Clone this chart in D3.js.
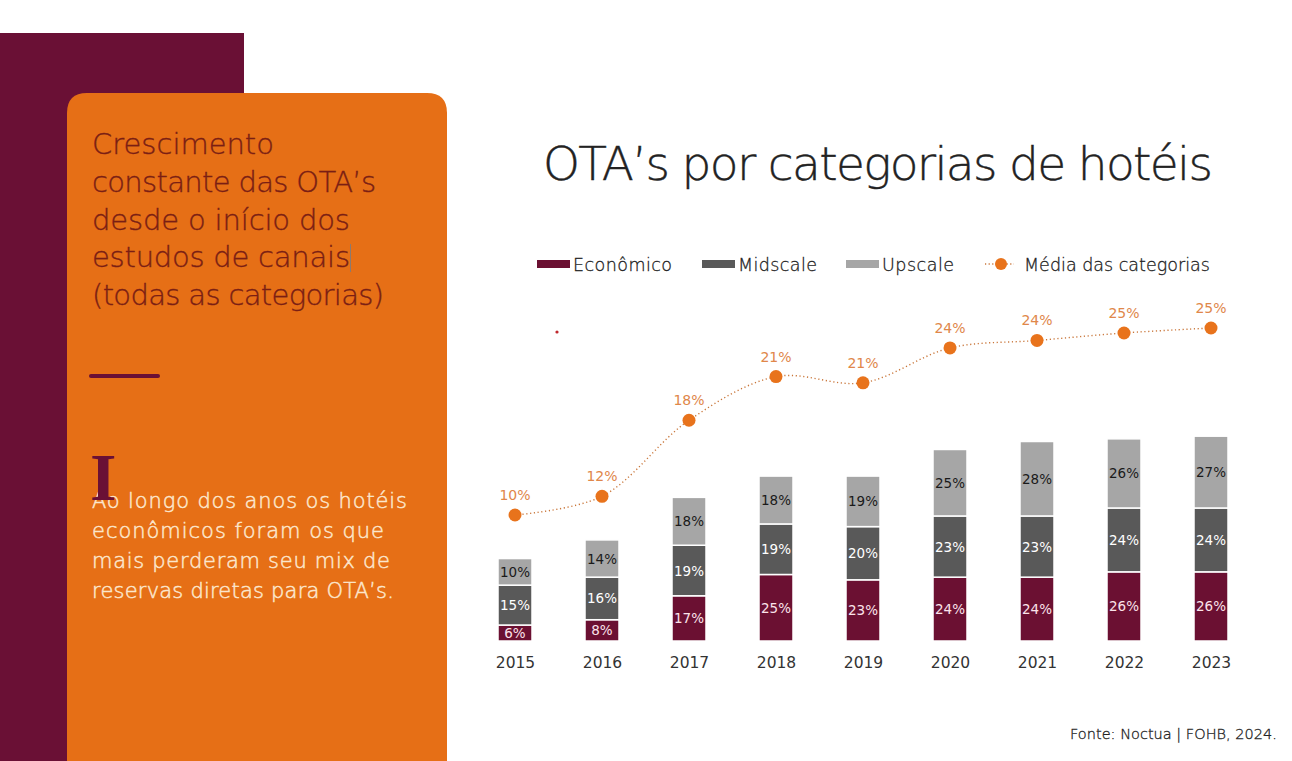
<!DOCTYPE html>
<html><head><meta charset="utf-8">
<script src="https://cdn.jsdelivr.net/npm/d3@7"></script>
<style>
html,body{margin:0;padding:0;background:#fff;}
svg{display:block;}
</style></head>
<body>
<svg id="chart" width="1292" height="761"></svg>
<script>
const years = ["2015","2016","2017","2018","2019","2020","2021","2022","2023"];
const economico = [6, 8, 17, 25, 23, 24, 24, 26, 26];
const midscale  = [15, 16, 19, 19, 20, 23, 23, 24, 24];
const upscale   = [10, 14, 18, 18, 19, 25, 28, 26, 27];
const media     = [10.0, 11.5, 17.6, 21.1, 20.6, 23.4, 24.0, 24.6, 25.0];
const mediaLabels = ["10%","12%","18%","21%","21%","24%","24%","25%","25%"];
const seriesNames = ["Econômico","Midscale","Upscale"];
const lineName = "Média das categorias";
const headingLines = ["Crescimento","constante das OTA’s","desde o início dos","estudos de canais","(todas as categorias)"];
const bodyLines = ["Ao longo dos anos os hotéis","econômicos foram os que","mais perderam seu mix de","reservas diretas para OTA’s."];

const colors = {econ:"#6B1032", mid:"#595959", up:"#A6A6A6", orange:"#E8731C", maroon:"#6A1035"};
const svg = d3.select("#chart");
const FONT = "'DejaVu Sans',sans-serif";

// fit a text element to a target width via letter-spacing
function fitWidth(sel, target){
  sel.each(function(){
    const w = this.getComputedTextLength();
    const n = this.textContent.length;
    if(n>1) d3.select(this).attr("letter-spacing", ((target - w)/(n-1)).toFixed(2));
  });
}

// ---- left panel ----
svg.append("rect").attr("x",0).attr("y",33).attr("width",244).attr("height",740).attr("fill",colors.maroon);
svg.append("path")
  .attr("d","M67,761 L67,113 Q67,93 87,93 L427,93 Q447,93 447,113 L447,761 Z")
  .attr("fill","#E66F16");
const headWidths = [182, 284, 258, 258, 292];
const heads = svg.append("g").selectAll("text").data(headingLines).join("text")
  .attr("x",92).attr("y",(d,i)=>154+i*37.8)
  .attr("font-family",FONT).attr("font-weight",200).attr("font-size",29)
  .attr("fill","#7A1E14").attr("stroke","#7A1E14").attr("stroke-width",0.35).text(d=>d);
heads.each(function(d,i){ fitWidth(d3.select(this), headWidths[i]); });
svg.append("line").attr("x1",350.5).attr("x2",350.5).attr("y1",244).attr("y2",272)
  .attr("stroke","#8a7a70").attr("stroke-width",1);
svg.append("line").attr("x1",91).attr("x2",158).attr("y1",376).attr("y2",376)
  .attr("stroke",colors.maroon).attr("stroke-width",4).attr("stroke-linecap","round");
const bodyWidths = [315, 292, 298, 302];
const bodies = svg.append("g").selectAll("text").data(bodyLines).join("text")
  .attr("x",92).attr("y",(d,i)=>508+i*30)
  .attr("font-family",FONT).attr("font-weight",200).attr("font-size",21)
  .attr("fill","#FCE6CC").attr("stroke","#FCE6CC").attr("stroke-width",0.5).text(d=>d);
bodies.each(function(d,i){ fitWidth(d3.select(this), bodyWidths[i]); });
svg.append("text").attr("x",90).attr("y",500)
  .attr("font-family","'Liberation Serif','DejaVu Serif',serif").attr("font-weight","bold").attr("font-size",68)
  .attr("fill",colors.maroon).text("I");

// ---- title ----
const title = svg.append("text").attr("x",543).attr("y",180)
  .attr("font-family",FONT).attr("font-weight",200).attr("font-size",47)
  .attr("fill","#222").attr("stroke","#222").attr("stroke-width",0.4).text("OTA’s por categorias de hotéis");
fitWidth(title, 670);

// ---- legend ----
const legendItems = [
  {name:seriesNames[0], color:colors.econ, x:537, w:99},
  {name:seriesNames[1], color:colors.mid, x:702, w:79},
  {name:seriesNames[2], color:colors.up, x:846, w:72}
];
const lg = svg.append("g");
legendItems.forEach(it=>{
  lg.append("rect").attr("x",it.x).attr("y",260).attr("width",33).attr("height",8).attr("fill",it.color);
  const t = lg.append("text").attr("x",it.x+36).attr("y",271).attr("font-family",FONT).attr("font-weight",200).attr("font-size",17.5)
    .attr("fill","#222").attr("stroke","#222").attr("stroke-width",0.3).text(it.name);
  fitWidth(t, it.w);
});
lg.append("line").attr("x1",985).attr("x2",1014).attr("y1",264).attr("y2",264)
  .attr("stroke","#C9763A").attr("stroke-width",1.5).attr("stroke-dasharray","1.2,2.4");
lg.append("circle").attr("cx",1001).attr("cy",264).attr("r",6).attr("fill",colors.orange);
const lt = lg.append("text").attr("x",1024).attr("y",271).attr("font-family",FONT).attr("font-weight",200).attr("font-size",17.5)
  .attr("fill","#222").attr("stroke","#222").attr("stroke-width",0.3).text(lineName);
fitWidth(lt, 186);

// ---- scales ----
const x = d3.scalePoint().domain(years).range([515,1211]);
const y = d3.scaleLinear().domain([0,100]).range([641,375]);
const y2 = d3.scaleLinear().domain([10,25]).range([515,328]);
const barW = 34;

const data = years.map((yr,i)=>({year:yr, econ:economico[i], mid:midscale[i], up:upscale[i]}));
const stack = d3.stack().keys(["econ","mid","up"])(data);
const fills = {econ:colors.econ, mid:colors.mid, up:colors.up};
const txtCol = {econ:"#FBE3EA", mid:"#FFFFFF", up:"#1a1a1a"};

const bars = svg.append("g");
stack.forEach(layer=>{
  const g = bars.append("g");
  g.selectAll("rect").data(layer).join("rect")
    .attr("x",d=>x(d.data.year)-barW/2).attr("width",barW)
    .attr("y",d=>y(d[1])).attr("height",d=>y(d[0])-y(d[1]))
    .attr("fill",fills[layer.key]).attr("stroke","#fff").attr("stroke-width",1.5);
  g.selectAll("text").data(layer).join("text")
    .attr("x",d=>x(d.data.year)).attr("y",d=>(y(d[0])+y(d[1]))/2+5)
    .attr("text-anchor","middle").attr("font-family","'DejaVu Sans',sans-serif").attr("font-size",13.5)
    .attr("fill",txtCol[layer.key]).text(d=>(d[1]-d[0])+"%");
});

// x axis labels
const xAxis = d3.axisBottom(x).tickSize(0).tickPadding(0);
const ax = svg.append("g").attr("transform","translate(0,657)").call(xAxis);
ax.select(".domain").remove();
ax.selectAll("text").attr("font-family","'DejaVu Sans',sans-serif").attr("font-size",15.5).attr("fill","#333");

// ---- line ----
const lineGen = d3.line().x((d,i)=>x(years[i])).y(d=>y2(d)).curve(d3.curveCatmullRom.alpha(0.5));
svg.append("path").attr("d",lineGen(media)).attr("fill","none")
  .attr("stroke","#C9763A").attr("stroke-width",1.4).attr("stroke-dasharray","1.2,2.6");
svg.append("g").selectAll("circle").data(media).join("circle")
  .attr("cx",(d,i)=>x(years[i])).attr("cy",d=>y2(d)).attr("r",6.5).attr("fill",colors.orange);
svg.append("g").selectAll("text").data(media).join("text")
  .attr("x",(d,i)=>x(years[i])).attr("y",d=>y2(d)-15)
  .attr("text-anchor","middle").attr("font-family","'DejaVu Sans',sans-serif").attr("font-size",14)
  .attr("fill","#E0874A").text((d,i)=>mediaLabels[i]);

// small dot
svg.append("circle").attr("cx",557).attr("cy",332).attr("r",1.6).attr("fill","#C0282D");

// source
const src = svg.append("text").attr("x",1070).attr("y",739)
  .attr("font-family",FONT).attr("font-weight",200).attr("font-size",14.5).attr("fill","#222")
  .attr("stroke","#222").attr("stroke-width",0.3).text("Fonte: Noctua | FOHB, 2024.");
fitWidth(src, 207);
</script>
</body></html>
